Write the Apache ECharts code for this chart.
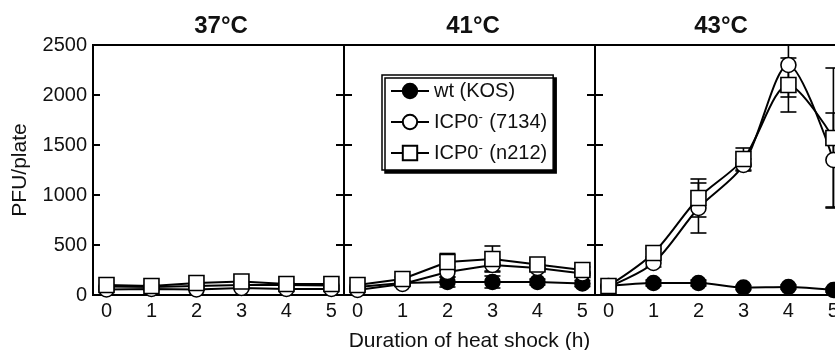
<!DOCTYPE html>
<html>
<head>
<meta charset="utf-8">
<script src="https://cdn.jsdelivr.net/npm/echarts@6/dist/echarts.min.js"></script>
<style>
  html, body { margin: 0; padding: 0; background: #fff; }
  #chart { width: 835px; height: 350px; }
</style>
</head>
<body>
<div id="chart"></div>
<script>
// hours of heat shock
const hours = [0, 1, 2, 3, 4, 5];
const panelTitles = ['37°C', '41°C', '43°C'];
const yTicks = [500, 1000, 1500, 2000];

// 37 C
const wt37 = [85, 80, 90, 100, 100, 95];
const c37 = [55, 60, 55, 70, 60, 60];
const s37 = [100, 90, 120, 135, 110, 110];
// 41 C
const wt41 = [80, 120, 130, 130, 130, 115];
const c41 = [50, 110, 230, 300, 270, 215];
const s41 = [100, 160, 330, 360, 305, 250];
const wt41Err = [0, 20, 50, 60, 30, 30];
const c41Err = [0, 20, 50, 60, 30, 20];
const s41Err = [0, 20, 85, 130, 40, 30];
// 43 C
const wt43 = [90, 120, 120, 75, 80, 50];
const c43 = [80, 320, 870, 1300, 2300, 1350];
const s43 = [90, 420, 970, 1360, 2100, 1570];
const wt43Err = [0, 30, 30, 20, 20, 20];
const c43Err = [0, 40, 250, 60, 320, 470];
const s43Err = [0, 40, 190, 110, 270, 700];

const names = ['wt (KOS)', 'ICP0- (7134)', 'ICP0- (n212)'];
const font = 'Liberation Sans, Arial, sans-serif';

const el = document.getElementById('chart');
const myChart = echarts.init(el);

const gridLefts = [93, 344, 595];
const grids = gridLefts.map(l => ({
  left: l, top: 45, width: 251, height: 250, outerBoundsMode: 'none',
  show: true, borderColor: '#000', borderWidth: 2, backgroundColor: 'transparent'
}));

const xAxes = gridLefts.map((l, i) => ({
  type: 'value', gridIndex: i, min: -0.3, max: 5.28,
  axisLine: { show: true, onZero: false, lineStyle: { color: '#000', width: 2 } },
  axisTick: { show: false },
  splitLine: { show: false },
  axisLabel: { customValues: hours, color: '#111', fontSize: 20, fontFamily: font, margin: 6 },
  name: i === 1 ? 'Duration of heat shock (h)' : '',
  nameLocation: 'middle', nameGap: 36,
  nameTextStyle: { color: '#111', fontSize: 21, fontFamily: font }
}));

const yBase = {
  type: 'value', min: 0, max: 2500, interval: 500,
  splitLine: { show: false },
  axisLine: { show: true, onZero: false, lineStyle: { color: '#000', width: 2 } }
};
const tickStyle = { color: '#000', width: 2 };
// left axis of each panel, ticks pointing into the panel
const yAxes = [
  Object.assign({}, yBase, {
    gridIndex: 0,
    axisTick: { show: true, inside: true, length: 7, lineStyle: tickStyle },
    axisLabel: { color: '#111', fontSize: 20, fontFamily: font, margin: 6, formatter: v => String(v) },
    name: 'PFU/plate', nameLocation: 'middle', nameGap: 62,
    nameTextStyle: { color: '#111', fontSize: 21, fontFamily: font }
  }),
  Object.assign({}, yBase, {
    gridIndex: 1, axisLabel: { show: false },
    axisTick: { show: true, inside: true, length: 8, customValues: yTicks, lineStyle: tickStyle }
  }),
  Object.assign({}, yBase, {
    gridIndex: 2, axisLabel: { show: false },
    axisTick: { show: true, inside: true, length: 8, customValues: yTicks, lineStyle: tickStyle }
  }),
  // right side of panels 1 and 2, so the ticks cross the shared borders
  Object.assign({}, yBase, {
    gridIndex: 0, position: 'right', axisLabel: { show: false },
    axisTick: { show: true, inside: true, length: 8, customValues: yTicks, lineStyle: tickStyle }
  }),
  Object.assign({}, yBase, {
    gridIndex: 1, position: 'right', axisLabel: { show: false },
    axisTick: { show: true, inside: true, length: 8, customValues: yTicks, lineStyle: tickStyle }
  })
];

function lineSeries(name, vals, idx, kind, smooth) {
  return {
    name: name, type: 'line', xAxisIndex: idx, yAxisIndex: idx,
    data: hours.map((h, k) => [h, vals[k]]),
    smooth: smooth,
    symbol: kind === 'square' ? 'rect' : 'circle',
    symbolSize: 15,
    lineStyle: { color: '#000', width: 2 },
    itemStyle: { color: kind === 'filled' ? '#000' : '#fff', borderColor: '#000', borderWidth: 1.6 },
    z: kind === 'square' ? 5 : (kind === 'open' ? 4 : 3),
    animation: false
  };
}

function errSeries(vals, errs, idx) {
  const d = [];
  hours.forEach((h, k) => {
    if (errs[k] > 0) d.push([h, vals[k] - errs[k], vals[k] + errs[k]]);
  });
  return {
    type: 'custom', xAxisIndex: idx, yAxisIndex: idx, clip: true, z: 2,
    data: d, silent: true, animation: false,
    renderItem: function (params, api) {
      const top = api.coord([api.value(0), api.value(2)]);
      const bot = api.coord([api.value(0), api.value(1)]);
      const w = 8;
      const st = { stroke: '#000', lineWidth: 1.6 };
      return {
        type: 'group', children: [
          { type: 'line', shape: { x1: top[0], y1: top[1], x2: bot[0], y2: bot[1] }, style: st },
          { type: 'line', shape: { x1: top[0] - w, y1: top[1], x2: top[0] + w, y2: top[1] }, style: st },
          { type: 'line', shape: { x1: bot[0] - w, y1: bot[1], x2: bot[0] + w, y2: bot[1] }, style: st }
        ]
      };
    }
  };
}

const series = [
  lineSeries(names[0], wt37, 0, 'filled', false),
  lineSeries(names[1], c37, 0, 'open', false),
  lineSeries(names[2], s37, 0, 'square', false),
  errSeries(wt41, wt41Err, 1),
  errSeries(c41, c41Err, 1),
  errSeries(s41, s41Err, 1),
  lineSeries(names[0], wt41, 1, 'filled', false),
  lineSeries(names[1], c41, 1, 'open', false),
  lineSeries(names[2], s41, 1, 'square', false),
  errSeries(wt43, wt43Err, 2),
  errSeries(c43, c43Err, 2),
  errSeries(s43, s43Err, 2),
  lineSeries(names[0], wt43, 2, 'filled', 0.3),
  lineSeries(names[1], c43, 2, 'open', 0.3),
  lineSeries(names[2], s43, 2, 'square', 0.3)
];

const titleX = [221, 473, 721];

var option = {
  animation: false,
  grid: grids,
  xAxis: xAxes,
  yAxis: yAxes,
  legend: {
    data: names,
    orient: 'vertical',
    left: 382, top: 75,
    padding: [6, 6, 7, 8],
    itemWidth: 38, itemHeight: 18, itemGap: 9.5,
    backgroundColor: '#fff',
    borderColor: '#000', borderWidth: 1.5,
    shadowColor: '#000', shadowBlur: 0, shadowOffsetX: 3, shadowOffsetY: 3,
    formatter: function (n) {
      return n.replace('ICP0- ', 'ICP0{s|-} ');
    },
    textStyle: {
      color: '#111', fontSize: 20, fontFamily: font,
      rich: { s: { fontSize: 13, fontFamily: font, color: '#111', padding: [0, 1, 10, 0] } }
    }
  },
  graphic: panelTitles.map((t, i) => ({
    type: 'text', x: titleX[i], y: 26,
    style: { text: t, fill: '#111', font: 'bold 24px ' + font, textAlign: 'center', textVerticalAlign: 'middle' }
  })),
  series: series
};

option && myChart.setOption(option);
</script>
</body>
</html>
